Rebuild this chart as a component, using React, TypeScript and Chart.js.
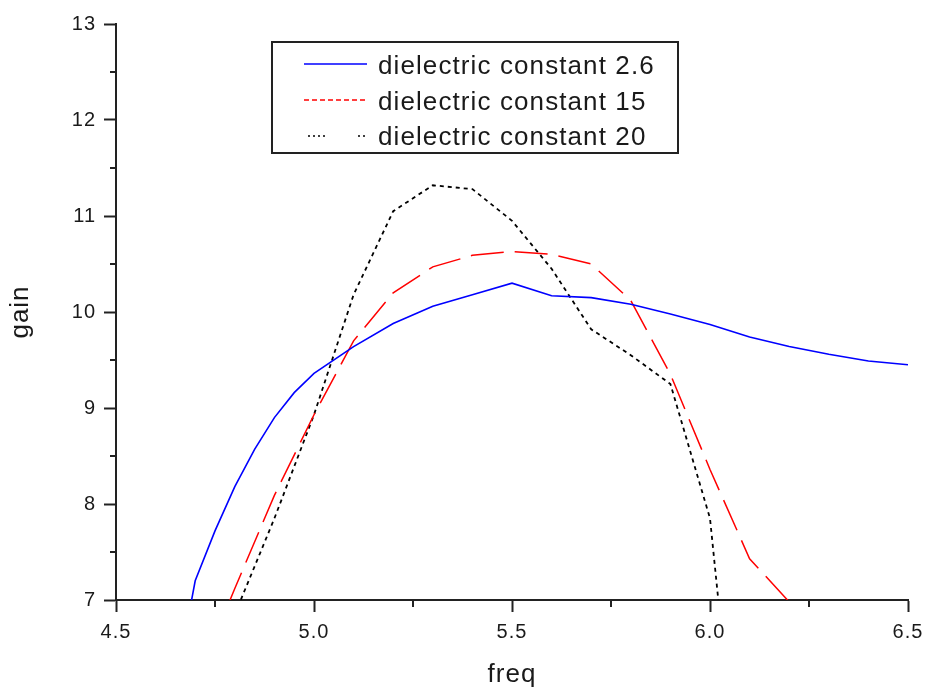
import { useEffect, useRef } from "react";
import { Chart, registerables } from "chart.js";

Chart.register(...registerables);

// Gain (dB) against frequency (GHz) for three substrate dielectric constants
const freqEr26 = [4.6, 4.7, 4.75, 4.8, 4.85, 4.9, 4.95, 5.0, 5.1, 5.2, 5.3, 5.4, 5.5, 5.6, 5.7, 5.8, 5.9, 6.0, 6.1, 6.2, 6.3, 6.4, 6.5];
const gainEr26 = [5.0, 7.2, 7.72, 8.18, 8.57, 8.9, 9.16, 9.36, 9.64, 9.88, 10.06, 10.18, 10.3, 10.17, 10.15, 10.08, 9.98, 9.87, 9.74, 9.64, 9.56, 9.49, 9.45];

const freqEr15 = [4.7, 4.8, 4.9, 5.0, 5.1, 5.2, 5.3, 5.4, 5.5, 5.6, 5.7, 5.8, 5.9, 6.0, 6.1, 6.2];
const gainEr15 = [6.12, 7.12, 8.09, 8.93, 9.7, 10.2, 10.47, 10.59, 10.63, 10.6, 10.5, 10.12, 9.35, 8.36, 7.43, 6.98];

const freqEr20 = [4.8, 4.9, 5.0, 5.1, 5.2, 5.3, 5.4, 5.5, 5.6, 5.7, 5.8, 5.9, 6.0, 6.1];
const gainEr20 = [6.85, 7.85, 8.93, 10.18, 11.05, 11.32, 11.28, 10.95, 10.45, 9.82, 9.55, 9.25, 7.85, 3.8];

const seriesLabels = ["dielectric constant 2.6", "dielectric constant 15", "dielectric constant 20"];

const xMajorTicks = [4.5, 5.0, 5.5, 6.0, 6.5];
const xMinorTicks = [4.75, 5.25, 5.75, 6.25];
const yMajorTicks = [7, 8, 9, 10, 11, 12, 13];
const yMinorTicks = [7.5, 8.5, 9.5, 10.5, 11.5, 12.5];

const AXIS_COLOR = "#222222";
const TEXT_COLOR = "#1a1a1a";
const FONT = "'Liberation Sans', Arial, sans-serif";

// Short outward tick marks between the labelled ones
const minorTickPlugin = {
  id: "minorTicks",
  afterDraw(chart: any) {
    const { ctx, chartArea, scales } = chart;
    ctx.save();
    ctx.strokeStyle = AXIS_COLOR;
    ctx.lineWidth = 2;
    xMinorTicks.forEach((v) => {
      const px = Math.round(scales.x.getPixelForValue(v));
      ctx.beginPath();
      ctx.moveTo(px, chartArea.bottom);
      ctx.lineTo(px, chartArea.bottom + 7);
      ctx.stroke();
    });
    yMinorTicks.forEach((v) => {
      const py = Math.round(scales.y.getPixelForValue(v));
      ctx.beginPath();
      ctx.moveTo(chartArea.left - 6, py);
      ctx.lineTo(chartArea.left, py);
      ctx.stroke();
    });
    ctx.restore();
  },
};

// Slightly spaced lettering for every label on the canvas
const letterSpacingPlugin = {
  id: "letterSpacing",
  beforeDraw(chart: any) {
    chart.ctx.letterSpacing = "1px";
  },
};

// Boxed legend inside the plot area
const boxLegendPlugin = {
  id: "boxLegend",
  afterDraw(chart: any) {
    const { ctx, chartArea } = chart;
    const left = chartArea.left + 156;
    const top = chartArea.top + 18;
    const width = 406;
    const height = 111;
    ctx.save();
    ctx.fillStyle = "#ffffff";
    ctx.fillRect(left, top, width, height);
    ctx.strokeStyle = AXIS_COLOR;
    ctx.lineWidth = 2;
    ctx.strokeRect(left, top, width, height);

    const sampleX0 = left + 32;
    const sampleX1 = left + 95;
    const textX = left + 106;
    const rows = [
      { base: top + 32, mid: top + 22 },
      { base: top + 68, mid: top + 58 },
      { base: top + 103, mid: top + 94 },
    ];
    const datasets = chart.data.datasets;

    ctx.font = `26px ${FONT}`;
    ctx.letterSpacing = "1.1px";
    ctx.textAlign = "left";
    ctx.textBaseline = "alphabetic";
    ctx.fillStyle = TEXT_COLOR;

    rows.forEach((r, i) => {
      const ds = datasets[i];
      ctx.strokeStyle = ds.borderColor;
      ctx.lineWidth = 1.6;
      ctx.beginPath();
      if (i === 0) {
        ctx.setLineDash([]);
        ctx.moveTo(sampleX0, r.mid);
        ctx.lineTo(sampleX1, r.mid);
      } else if (i === 1) {
        ctx.setLineDash([5, 3]);
        ctx.moveTo(sampleX0, r.mid);
        ctx.lineTo(sampleX1, r.mid);
      } else {
        ctx.setLineDash([2, 3]);
        ctx.moveTo(sampleX0 + 4, r.mid);
        ctx.lineTo(sampleX0 + 24, r.mid);
        ctx.moveTo(sampleX0 + 54, r.mid);
        ctx.lineTo(sampleX0 + 63, r.mid);
      }
      ctx.stroke();
      ctx.setLineDash([]);
      ctx.fillText(ds.label, textX, r.base);
    });
    ctx.restore();
  },
};

function toPoints(xs: number[], ys: number[]) {
  return xs.map((x, i) => ({ x, y: ys[i] }));
}

export default function App() {
  const canvasRef = useRef<HTMLCanvasElement | null>(null);

  useEffect(() => {
    if (!canvasRef.current) return;
    const chart = new Chart(canvasRef.current, {
      type: "line",
      data: {
        datasets: [
          {
            label: seriesLabels[0],
            data: toPoints(freqEr26, gainEr26),
            borderColor: "#0000ff",
            borderWidth: 1.6,
            pointRadius: 0,
            tension: 0,
          },
          {
            label: seriesLabels[1],
            data: toPoints(freqEr15, gainEr15),
            borderColor: "#ff0000",
            borderWidth: 1.5,
            borderDash: [33, 11],
            pointRadius: 0,
            tension: 0,
          },
          {
            label: seriesLabels[2],
            data: toPoints(freqEr20, gainEr20),
            borderColor: "#000000",
            borderWidth: 1.8,
            borderDash: [4, 4],
            pointRadius: 0,
            tension: 0,
          },
        ],
      },
      options: {
        animation: false,
        responsive: true,
        maintainAspectRatio: false,
        layout: { padding: { left: 0, right: 19, top: 24, bottom: 0 } },
        plugins: {
          legend: { display: false },
          tooltip: { enabled: false },
        },
        scales: {
          x: {
            type: "linear",
            min: 4.5,
            max: 6.5,
            afterBuildTicks: (s: any) => {
              s.ticks = xMajorTicks.map((value) => ({ value }));
            },
            afterFit: (s: any) => {
              s.height = 95;
              s.paddingLeft = 0;
              s.paddingRight = 0;
            },
            ticks: {
              color: TEXT_COLOR,
              font: { family: FONT, size: 20 },
              padding: 8,
              maxRotation: 0,
              autoSkip: false,
              callback: (v: any) => Number(v).toFixed(1),
            },
            grid: {
              drawOnChartArea: false,
              drawTicks: true,
              tickLength: 12,
              tickColor: AXIS_COLOR,
              tickWidth: 2,
            },
            border: { display: true, color: AXIS_COLOR, width: 2 },
            title: {
              display: true,
              text: "freq",
              color: TEXT_COLOR,
              font: { family: FONT, size: 26 },
              padding: { top: 0, bottom: 5 },
            },
          },
          y: {
            type: "linear",
            min: 7,
            max: 13,
            afterBuildTicks: (s: any) => {
              s.ticks = yMajorTicks.map((value) => ({ value }));
            },
            afterFit: (s: any) => {
              s.width = 116;
              s.paddingTop = 0;
              s.paddingBottom = 0;
            },
            ticks: {
              color: TEXT_COLOR,
              font: { family: FONT, size: 20 },
              padding: 8,
              autoSkip: false,
              callback: (v: any) => String(v),
            },
            grid: {
              drawOnChartArea: false,
              drawTicks: true,
              tickLength: 12,
              tickColor: AXIS_COLOR,
              tickWidth: 2,
            },
            border: { display: true, color: AXIS_COLOR, width: 2 },
            title: {
              display: true,
              text: "gain",
              color: TEXT_COLOR,
              font: { family: FONT, size: 26 },
              padding: { top: 5, bottom: 0 },
            },
          },
        },
      },
      plugins: [letterSpacingPlugin, minorTickPlugin, boxLegendPlugin],
    });
    return () => chart.destroy();
  }, []);

  return (
    <div style={{ position: "fixed", left: 0, top: 0, width: 927, height: 695, background: "#ffffff" }}>
      <canvas ref={canvasRef} />
    </div>
  );
}
